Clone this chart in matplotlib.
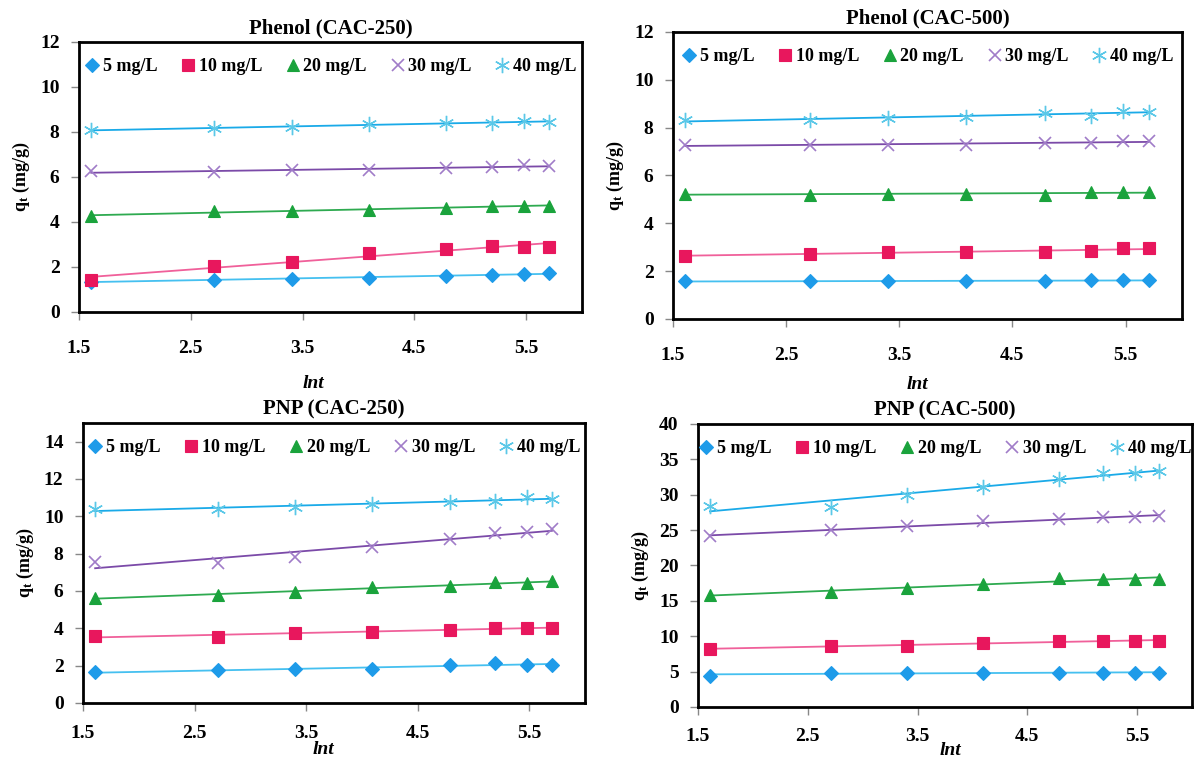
import numpy as np
import matplotlib
matplotlib.use("Agg")
import matplotlib.pyplot as plt

plt.rcParams["font.family"] = ["Liberation Serif", "DejaVu Serif"]
plt.rcParams["font.weight"] = "bold"
plt.rcParams["mathtext.fontset"] = "custom"
plt.rcParams["mathtext.rm"] = "Liberation Serif:bold"
plt.rcParams["mathtext.bf"] = "Liberation Serif:bold"
plt.rcParams["mathtext.it"] = "Liberation Serif:italic:bold"

# lnt for t = 5, 15, 30, 60, 120, 180, 240, 300 min
lnt = [1.609, 2.708, 3.401, 4.094, 4.787, 5.193, 5.481, 5.704]
series_labels = ["5 mg/L", "10 mg/L", "20 mg/L", "30 mg/L", "40 mg/L"]

# Phenol (CAC-250)
ph250_5 = [1.35, 1.44, 1.47, 1.53, 1.59, 1.63, 1.68, 1.75]
ph250_10 = [1.41, 2.06, 2.21, 2.63, 2.82, 2.94, 2.91, 2.89]
ph250_20 = [4.27, 4.47, 4.50, 4.54, 4.61, 4.72, 4.72, 4.72]
ph250_30 = [6.25, 6.23, 6.30, 6.30, 6.38, 6.45, 6.53, 6.48]
ph250_40 = [8.09, 8.16, 8.23, 8.34, 8.38, 8.38, 8.50, 8.46]

# Phenol (CAC-500)
ph500_5 = [1.58, 1.58, 1.58, 1.58, 1.58, 1.62, 1.62, 1.62]
ph500_10 = [2.65, 2.73, 2.80, 2.79, 2.79, 2.83, 2.97, 2.97]
ph500_20 = [5.23, 5.20, 5.23, 5.23, 5.20, 5.30, 5.30, 5.30]
ph500_30 = [7.26, 7.29, 7.29, 7.29, 7.36, 7.36, 7.43, 7.43]
ph500_40 = [8.31, 8.33, 8.40, 8.45, 8.61, 8.50, 8.71, 8.65]

# PNP (CAC-250)
pnp250_5 = [1.65, 1.74, 1.80, 1.83, 2.03, 2.12, 2.05, 2.05]
pnp250_10 = [3.59, 3.54, 3.75, 3.81, 3.91, 4.02, 4.02, 4.02]
pnp250_20 = [5.65, 5.78, 5.92, 6.19, 6.28, 6.46, 6.43, 6.52]
pnp250_30 = [7.57, 7.50, 7.81, 8.38, 8.76, 9.12, 9.15, 9.30]
pnp250_40 = [10.38, 10.38, 10.50, 10.68, 10.77, 10.82, 11.04, 10.91]

# PNP (CAC-500)
pnp500_5 = [4.42, 4.85, 4.85, 4.85, 4.85, 4.85, 4.85, 4.85]
pnp500_10 = [8.22, 8.65, 8.55, 9.03, 9.36, 9.36, 9.36, 9.36]
pnp500_20 = [15.77, 16.25, 16.86, 17.34, 18.29, 18.05, 18.05, 18.05]
pnp500_30 = [24.13, 25.04, 25.51, 26.22, 26.60, 26.84, 26.84, 26.94]
pnp500_40 = [28.36, 28.27, 30.02, 31.12, 32.16, 33.11, 33.11, 33.35]

marker_styles = [
    dict(marker="D", color="#1E9BE9", ms=7),
    dict(marker="s", color="#E8175D", ms=9),
    dict(marker="^", color="#1AA33C", ms=9),
    dict(marker="x", color="#A07CC8", ms=9, mew=1.2),
    dict(marker=(6, 2, 0), color="#5BC8E8", ms=11, mew=1.0),
]
line_colors = ["#45C0F0", "#F0609A", "#2EAA50", "#7B4AA8", "#1AAAE8"]

panels = [
    dict(title="Phenol (CAC-250)", data=[ph250_5, ph250_10, ph250_20, ph250_30, ph250_40],
         rect=[0.0662, 0.5884, 0.4213, 0.3562], ylim=(0, 12), yticks=np.arange(0, 13, 2),
         xpad=14, xlab=(0.465, -0.235)),
    dict(title="Phenol (CAC-500)", data=[ph500_5, ph500_10, ph500_20, ph500_30, ph500_40],
         rect=[0.5637, 0.5792, 0.4263, 0.3786], ylim=(0, 12), yticks=np.arange(0, 13, 2),
         xpad=14, xlab=(0.48, -0.20)),
    dict(title="PNP (CAC-250)", data=[pnp250_5, pnp250_10, pnp250_20, pnp250_30, pnp250_40],
         rect=[0.0695, 0.0726, 0.4204, 0.3694], ylim=(0, 15), yticks=np.arange(0, 15, 2),
         xpad=10, xlab=(0.478, -0.135)),
    dict(title="PNP (CAC-500)", data=[pnp500_5, pnp500_10, pnp500_20, pnp500_30, pnp500_40],
         rect=[0.5846, 0.0673, 0.4137, 0.3734], ylim=(0, 40), yticks=np.arange(0, 41, 5),
         xpad=9, xlab=(0.51, -0.125)),
]

fig = plt.figure(figsize=(11.94, 7.58), dpi=100)

for p in panels:
    ax = fig.add_axes(p["rect"])
    x = np.array(lnt)
    for i, y in enumerate(p["data"]):
        # linear trendline, as in the original spreadsheet chart
        slope, icpt = np.polyfit(x, y, 1)
        xs = np.array([x[0], x[-1]])
        ax.plot(xs, slope * xs + icpt, color=line_colors[i], lw=1.3, zorder=2)
        st = marker_styles[i]
        ax.plot(x, y, ls="none", marker=st["marker"], color=st["color"],
                ms=st["ms"], mew=st.get("mew", 0.8), label=series_labels[i], zorder=3)
    ax.set_xlim(1.5, 6.0)
    ax.set_ylim(*p["ylim"])
    ax.set_xticks([1.5, 2.5, 3.5, 4.5, 5.5])
    ax.set_xticklabels(["1.5", "2.5", "3.5", "4.5", "5.5"])
    ax.set_yticks(p["yticks"])
    ax.tick_params(axis="both", direction="out", length=6, width=1, color="#888888",
                   labelsize=14)
    ax.tick_params(axis="x", pad=p["xpad"])
    ax.tick_params(axis="y", pad=8)
    for lab in ax.get_xticklabels() + ax.get_yticklabels():
        lab.set_fontweight("bold")
    for sp in ax.spines.values():
        sp.set_linewidth(2)
        sp.set_color("black")
    ax.set_title(p["title"], fontsize=15, fontweight="bold", pad=6)
    ax.set_xlabel("lnt", fontsize=14, fontweight="bold", fontstyle="italic")
    ax.xaxis.set_label_coords(*p["xlab"])
    ax.set_ylabel(r"q$_\mathrm{t}$ (mg/g)", fontsize=13, fontweight="bold", labelpad=6)
    ax.legend(loc="upper center", ncol=5, frameon=False,
              handlelength=0.8, handletextpad=0.2, columnspacing=1.3,
              borderaxespad=0.5, prop={"weight": "bold", "size": 13})

fig.savefig("out.png", dpi=100)
